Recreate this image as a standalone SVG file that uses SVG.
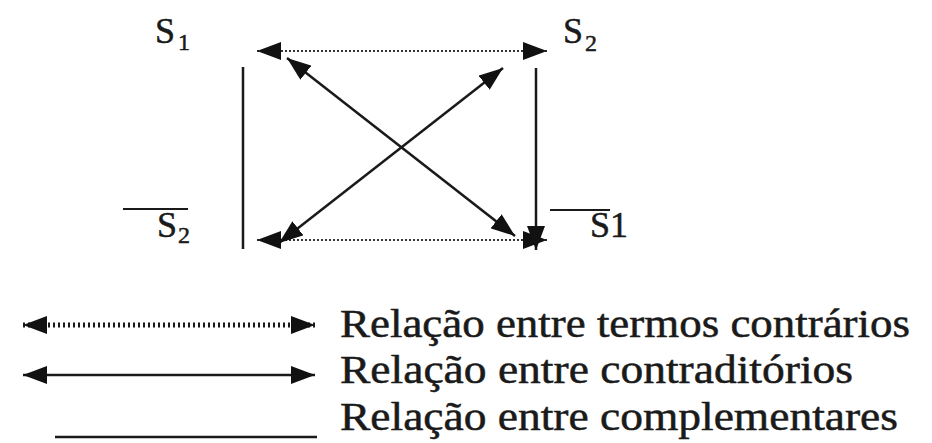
<svg xmlns="http://www.w3.org/2000/svg" width="932" height="443" viewBox="0 0 932 443">
<style>
text{font-family:'Liberation Serif','DejaVu Serif',serif;fill:#1a1a1a;stroke:#1a1a1a;stroke-width:0.5}
.big{font-size:36px}
.sub{font-size:24px}
.leg{font-size:39px}
.solid{stroke:#1a1a1a;stroke-width:2.5;fill:none}
.dot{stroke:#333;stroke-width:2;stroke-dasharray:2 2;fill:none}
.dotleg{stroke:#1a1a1a;stroke-width:5;stroke-dasharray:2 3;fill:none}
.bar{stroke:#1a1a1a;stroke-width:2;fill:none}
</style>
<defs>
<marker id="ah" markerUnits="userSpaceOnUse" markerWidth="24" markerHeight="18" refX="24" refY="9" orient="auto-start-reverse">
<path d="M0,0 L24,9 L0,18 z" fill="#111"/>
</marker>
</defs>
<rect width="932" height="443" fill="#fff"/>
<g id="s1">
<text class="big" x="155" y="43">S</text><text class="sub" x="178" y="50">1</text>
</g>
<g id="s2">
<text class="big" x="563" y="43">S</text><text class="sub" x="585" y="51">2</text>
</g>
<g id="not-s2">
<line class="bar" x1="123" y1="209" x2="188" y2="209"/>
<text class="big" x="157" y="237">S</text><text class="sub" x="178" y="243">2</text>
</g>
<g id="not-s1">
<line class="bar" x1="550" y1="210" x2="610" y2="210"/>
<text class="big" x="590" y="237">S1</text>
</g>
<g id="connectors">
<line class="dot" x1="257" y1="51" x2="547" y2="51" marker-start="url(#ah)" marker-end="url(#ah)"/>
<line class="dot" x1="257" y1="240" x2="547" y2="240" marker-start="url(#ah)" marker-end="url(#ah)"/>
<line class="solid" x1="287" y1="58" x2="515" y2="236" marker-start="url(#ah)" marker-end="url(#ah)"/>
<line class="solid" x1="503" y1="68" x2="279" y2="243" marker-start="url(#ah)" marker-end="url(#ah)"/>
<line class="solid" x1="243" y1="67" x2="243" y2="249"/>
<line class="solid" x1="536" y1="68" x2="536" y2="250" marker-end="url(#ah)"/>
</g>
<g id="legend">
<line class="dotleg" x1="23" y1="325" x2="315" y2="325" marker-start="url(#ah)" marker-end="url(#ah)"/>
<text class="leg" x="340" y="337" textLength="570" lengthAdjust="spacingAndGlyphs">Relação entre termos contrários</text>
<line class="solid" x1="23" y1="375" x2="315" y2="375" marker-start="url(#ah)" marker-end="url(#ah)"/>
<text class="leg" x="340" y="383" textLength="513" lengthAdjust="spacingAndGlyphs">Relação entre contraditórios</text>
<line class="solid" x1="55" y1="437" x2="317" y2="437"/>
<text class="leg" x="340" y="430" textLength="558" lengthAdjust="spacingAndGlyphs">Relação entre complementares</text>
</g>
</svg>
